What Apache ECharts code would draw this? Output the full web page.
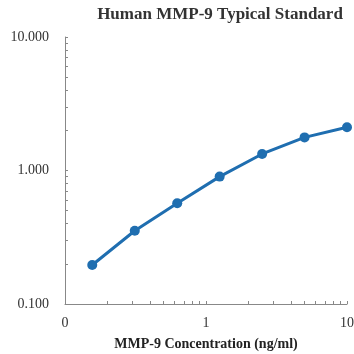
<!DOCTYPE html>
<html>
<head>
<meta charset="utf-8">
<script src="https://cdn.jsdelivr.net/npm/echarts@6/dist/echarts.min.js"></script>
<style>
  html, body { margin: 0; padding: 0; background: #fff; }
  #chart { width: 354px; height: 354px; }
</style>
</head>
<body>
<div id="chart"></div>
<script>
// MMP-9 standard curve
const concentrations = [0.156, 0.3125, 0.625, 1.25, 2.5, 5, 10];
const opticalDensity = [0.196, 0.354, 0.568, 0.90, 1.33, 1.77, 2.11];
const xTickValues = [0.1, 0.2, 0.3, 0.4, 0.5, 0.6, 0.7, 0.8, 0.9, 1, 2, 3, 4, 5, 6, 7, 8, 9, 10];
const yTickValues = [0.1, 0.2, 0.3, 0.4, 0.5, 0.6, 0.7, 0.8, 0.9, 1, 2, 3, 4, 5, 6, 7, 8, 9, 10];
const xLabelValues = [0.1, 1, 10];
const yLabelValues = [0.1, 1, 10];

const chart = echarts.init(document.getElementById('chart'));
const serif = '"Liberation Serif", "Times New Roman", serif';

chart.setOption({
    animation: false,
    title: {
        text: 'Human MMP-9 Typical Standard',
        left: 215,
        top: 1,
        textAlign: 'center',
        textStyle: { fontFamily: serif, fontSize: 17, fontWeight: 'bold', color: '#333' },
    },
    grid: { left: 65, right: 7, top: 37, bottom: 50, outerBoundsMode: 'none', containLabel: false },
    xAxis: {
        type: 'log',
        min: 0.1,
        max: 10,
        name: 'MMP-9 Concentration (ng/ml)',
        nameLocation: 'middle',
        nameGap: 33,
        nameTextStyle: { fontFamily: serif, fontSize: 14, fontWeight: 'bold', color: '#222' },
        axisLine: { lineStyle: { color: '#888', width: 1 } },
        axisTick: { inside: true, length: 3, customValues: xTickValues, lineStyle: { color: '#888' } },
        axisLabel: {
            customValues: xLabelValues,
            margin: 12,
            fontFamily: serif,
            fontSize: 14,
            color: '#333',
            formatter: (v) => String(Math.round(v)),
        },
        splitLine: { show: false },
    },
    yAxis: {
        type: 'log',
        min: 0.1,
        max: 10,
        name: 'Optical Density',
        nameLocation: 'middle',
        nameGap: 52,
        nameTextStyle: { fontFamily: serif, fontSize: 14, fontWeight: 'bold', color: '#222' },
        axisLine: { show: true, lineStyle: { color: '#888', width: 1 } },
        axisTick: { show: true, inside: true, length: 3, customValues: yTickValues, lineStyle: { color: '#888' } },
        axisLabel: {
            customValues: yLabelValues,
            margin: 16,
            fontFamily: serif,
            fontSize: 14,
            color: '#333',
            formatter: (v) => v.toFixed(3),
        },
        splitLine: { show: false },
    },
    series: [{
        type: 'line',
        data: concentrations.map((c, i) => [c, opticalDensity[i]]),
        symbol: 'circle',
        symbolSize: 10,
        itemStyle: { color: '#1f6eb0' },
        lineStyle: { color: '#1f6eb0', width: 3 },
    }],
});
</script>
</body>
</html>
